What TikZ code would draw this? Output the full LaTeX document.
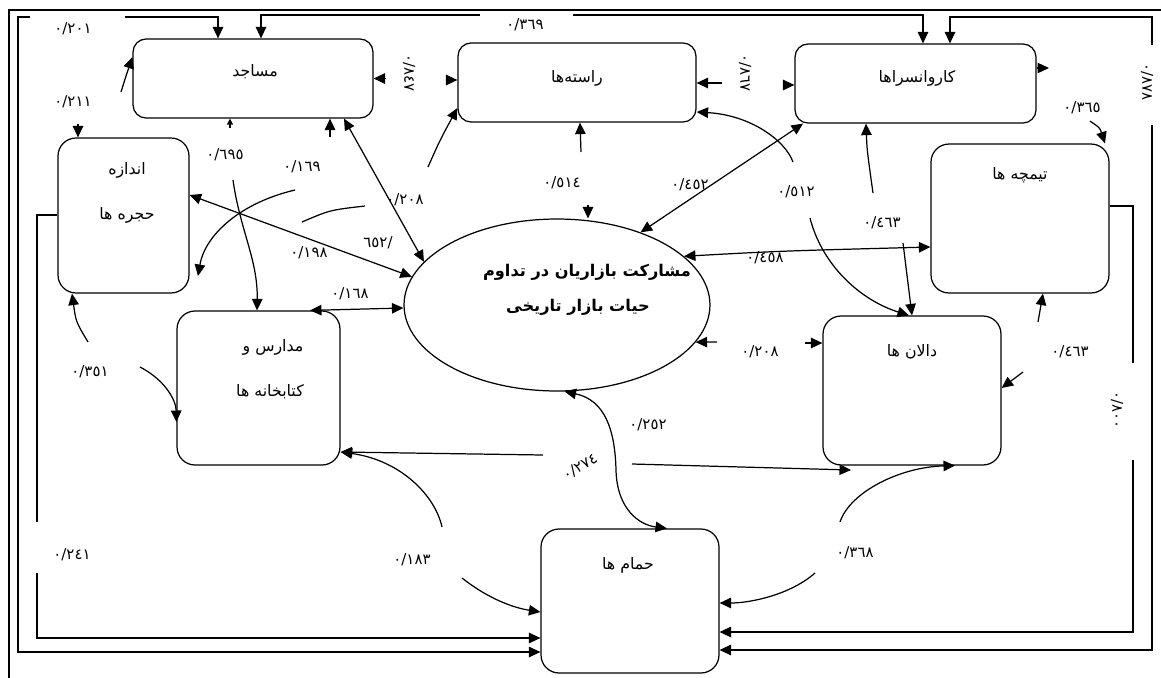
\documentclass[tikz,border=0pt]{standalone}
\usepackage{fontspec}
\newfontfamily\arabicfont[Script=Arabic]{DejaVu Sans}
\TeXXeTstate=1
\usetikzlibrary{arrows.meta,shapes.geometric}

\tikzset{
  box/.style={draw, rounded corners=0.36cm, inner sep=0pt},
  wide/.style={box, rounded corners=0.26cm, minimum height=1.58cm},
  lbl/.style={font=\arabicfont\fontsize{9}{11}\selectfont, inner sep=1pt},
  title/.style={font=\arabicfont\bfseries\fontsize{9.2}{11}\selectfont, inner sep=1pt},
  num/.style={font=\arabicfont\fontsize{8.5}{10}\selectfont, inner sep=1pt},
  small tip/.style={arrows={-Triangle[length=1.2mm,width=1.2mm]}},
}

\begin{document}
\begin{tikzpicture}[x=0.02cm, y=-0.02cm, line width=0.7pt,
    >={Triangle[length=2.3mm,width=2.1mm]}]
    \useasboundingbox (0,0) rectangle (1161,677);

    % Draw the outer frame
    \draw[line width=0.8pt] (9,690) -- (9,10) -- (1170,10);

    % Draw the boxes
    \node[wide, minimum width=4.8cm] (masajed) at (253,78.5) {};
    \node[wide, minimum width=4.76cm] (raste) at (577,82.5) {};
    \node[wide, minimum width=4.82cm] (karvan) at (915.5,83.5) {};
    \node[box, minimum width=2.62cm, minimum height=3.1cm] (hojre) at (123.5,215.5) {};
    \node[box, minimum width=3.56cm, minimum height=2.98cm] (timche) at (1020,218.5) {};
    \node[box, minimum width=3.26cm, minimum height=3.08cm] (madares) at (258.5,388) {};
    \node[box, minimum width=3.56cm, minimum height=2.98cm] (dalan) at (912,390.5) {};
    \node[box, minimum width=3.56cm, minimum height=2.88cm] (hammam) at (630,601) {};
    \node[draw, ellipse, minimum width=6.12cm, minimum height=3.44cm] (bazar) at (557,305) {};

    % Box texts
    \node[lbl] (masajedT) at (255,72) {\beginR مساجد\endR};
    \node[lbl] (rasteT) at (577,78) {\beginR راسته‌ها\endR};
    \node[lbl] (karvanT) at (917,78) {\beginR کاروانسراها\endR};
    \node[lbl] (hojreA) at (127,170) {\beginR اندازه\endR};
    \node[lbl] (hojreB) at (127,215) {\beginR حجره ها\endR};
    \node[lbl] (timcheT) at (1020,175) {\beginR تیمچه ها\endR};
    \node[lbl] (madaresA) at (273,347) {\beginR مدارس و\endR};
    \node[lbl] (madaresB) at (270,392) {\beginR کتابخانه ها\endR};
    \node[lbl] (dalanT) at (912,352) {\beginR دالان ها\endR};
    \node[lbl] (hammamT) at (628,565) {\beginR حمام ها\endR};
    \node[title] (bazarA) at (587,272) {\beginR مشارکت بازاریان در تداوم\endR};
    \node[title] (bazarB) at (578,307) {\beginR حیات بازار تاریخی\endR};

    % Long links round the frame
    \draw[<-] (masajed.north -| 218,0) -- (218,17) -- (125,17);
    \draw[->] (30,17) -- (18,17) -- (18,652) -- (hammam.west |- 0,652);
    \draw[<-] (masajed.north -| 261,0) -- (261,15) -- (480,15);
    \draw[->] (573,15) -- (923,15) -- (karvan.north -| 923,0);
    \draw[<-] (karvan.north -| 950,0) -- (950,17) -- (1152,17) -- (1152,45);
    \draw[->] (1152,125) -- (1152,650) -- (hammam.east |- 0,650);
    \draw (timche.east |- 0,206) -- (1133,206) -- (1133,363);
    \draw[->] (1133,460) -- (1133,632) -- (hammam.east |- 0,632);
    \draw (hojre.west |- 0,215) -- (37,215) -- (37,522);
    \draw[->] (37,573) -- (37,638) -- (hammam.west |- 0,638);

    % Links between the top boxes
    \draw[<-] (masajed.east) -- (385,78.5);
    \draw[->] (446,80) -- (raste.west |- 0,80);
    \draw[<-] (raste.east |- 0,83) -- (722,83);
    \draw[->] (784,85) -- (karvan.west |- 0,85);
    \draw[->] (karvan.east |- 0,68) -- (1049,68);
    \draw[->] (1090,121) .. controls (1100,128) .. (timche.north -| 1105,0);
    \draw[<-] (hojre.north -| 78,0) -- (78,124);
    \draw[->] (121,92) .. controls (126,76) .. (masajed.west |- 0,57);

    % Links on the left side
    \coordinate (hojreR) at (198,276);
    \coordinate (curveA) at (302,222);
    \draw[small tip] (230,128) -- (masajed.south -| 230,0);
    \draw[->] (233,180) .. controls (240,230) and (258,260) .. (madares.north -| 257,0);
    \draw[<-] (masajed.south -| 330,0) -- (330,137);
    \draw[->] (295,190) .. controls (240,203) and (205,235) .. (hojreR);
    \draw[<->] (masajed.south -| 344,0) -- (bazar.162);
    \draw[<->] (hojre.east |- 0,195) -- (bazar.169);
    \draw[<->] (madares.north -| 310,0) -- (bazar.west |- 0,308);
    \draw (curveA) .. controls (330,210) .. (365,206);
    \draw[->] (428,167) .. controls (440,140) .. (raste.west |- 0,108);
    \draw[<-] (hojre.south -| 72,0) .. controls (76,322) .. (88,342);
    \draw[->] (140,367) .. controls (165,380) and (176,400) .. (madares.west |- 0,422);

    % Links on the right side
    \draw[<-] (raste.south -| 580,0) -- (581,152);
    \draw[->] (588,205) -- (bazar.north -| 588,0);
    \draw[<->] (bazar.41) -- (karvan.south -| 803,0);
    \draw[<-] (raste.east |- 0,112) .. controls (750,115) and (785,140) .. (793,162);
    \draw[->] (810,218) .. controls (822,265) and (860,300) .. (dalan.north -| 909,0);
    \draw[<-] (karvan.south -| 866,0) .. controls (867,150) .. (873,193);
    \draw[->] (903,243) -- (dalan.north -| 912,0);
    \draw[<->] (bazar.21) .. controls (780,251) .. (timche.west |- 0,247);
    \draw[<-] (timche.south -| 1043,0) -- (1038,322);
    \draw[->] (1023,372) -- (dalan.east |- 0,388);
    \draw[<-] (bazar.-15) -- (717,342);
    \draw[->] (805,343) -- (dalan.west |- 0,343);

    % Links to the bottom box
    \coordinate (dalanBL) at (851,470);
    \draw[<->] (bazar.-85) .. controls (605,400) and (615,430) .. (616,470) .. controls (617,510) and (640,525) .. (hammam.north -| 667,0);
    \draw[<-] (madares.east |- 0,452) -- (543,455);
    \draw[->] (632,464) -- (dalanBL);
    \draw[<-] (madares.east |- 0,452) .. controls (400,460) and (435,495) .. (442,527);
    \draw[->] (462,578) .. controls (490,600) and (515,608) .. (hammam.west |- 0,612);
    \draw[<-] (dalan.south -| 955,0) .. controls (900,467) and (850,492) .. (840,522);
    \draw[->] (815,573) .. controls (790,595) and (750,603) .. (hammam.east |- 0,603);

    % Coefficients
    \node[num] (n201) at (73,29) {٠/٢٠١};
    \node[num] (n369) at (525,25) {٠/٣٦٩};
    \node[num] (n211) at (73,102) {٠/٢١١};
    \node[num, rotate=-90] (n847) at (409,73) {٠/٨٤٧};
    \node[num, rotate=-90] (n867) at (745,73) {٠/٨٦٧};
    \node[num, rotate=-90] (n878) at (1147,82) {٠/٨٧٨};
    \node[num] (n365) at (1082,108) {٠/٣٦٥};
    \node[num] (n695) at (225,155) {٠/٦٩٥};
    \node[num] (n169) at (302,167) {٠/١٦٩};
    \node[num] (n208a) at (405,200) {٠/٢٠٨};
    \node[num] (n652) at (378,243) {/٦٥٢};
    \node[num] (n198) at (309,253) {٠/١٩٨};
    \node[num] (n168) at (350,294) {٠/١٦٨};
    \node[num] (n514) at (562,183) {٠/٥١٤};
    \node[num] (n452) at (690,185) {٠/٤٥٢};
    \node[num] (n512) at (796,192) {٠/٥١٢};
    \node[num] (n463a) at (882,223) {٠/٤٦٣};
    \node[num] (n458) at (765,258) {٠/٤٥٨};
    \node[num] (n208b) at (760,352) {٠/٢٠٨};
    \node[num] (n463b) at (1070,352) {٠/٤٦٣};
    \node[num, rotate=-90] (n800) at (1117,410) {٠/٨٠٠};
    \node[num] (n351) at (90,372) {٠/٣٥١};
    \node[num] (n252) at (648,425) {٠/٢٥٢};
    \node[num, rotate=30] (n274) at (580,467) {٠/٢٧٤};
    \node[num] (n183) at (412,560) {٠/١٨٣};
    \node[num] (n368) at (855,553) {٠/٣٦٨};
    \node[num] (n241) at (72,555) {٠/٢٤١};
\end{tikzpicture}
\end{document}
